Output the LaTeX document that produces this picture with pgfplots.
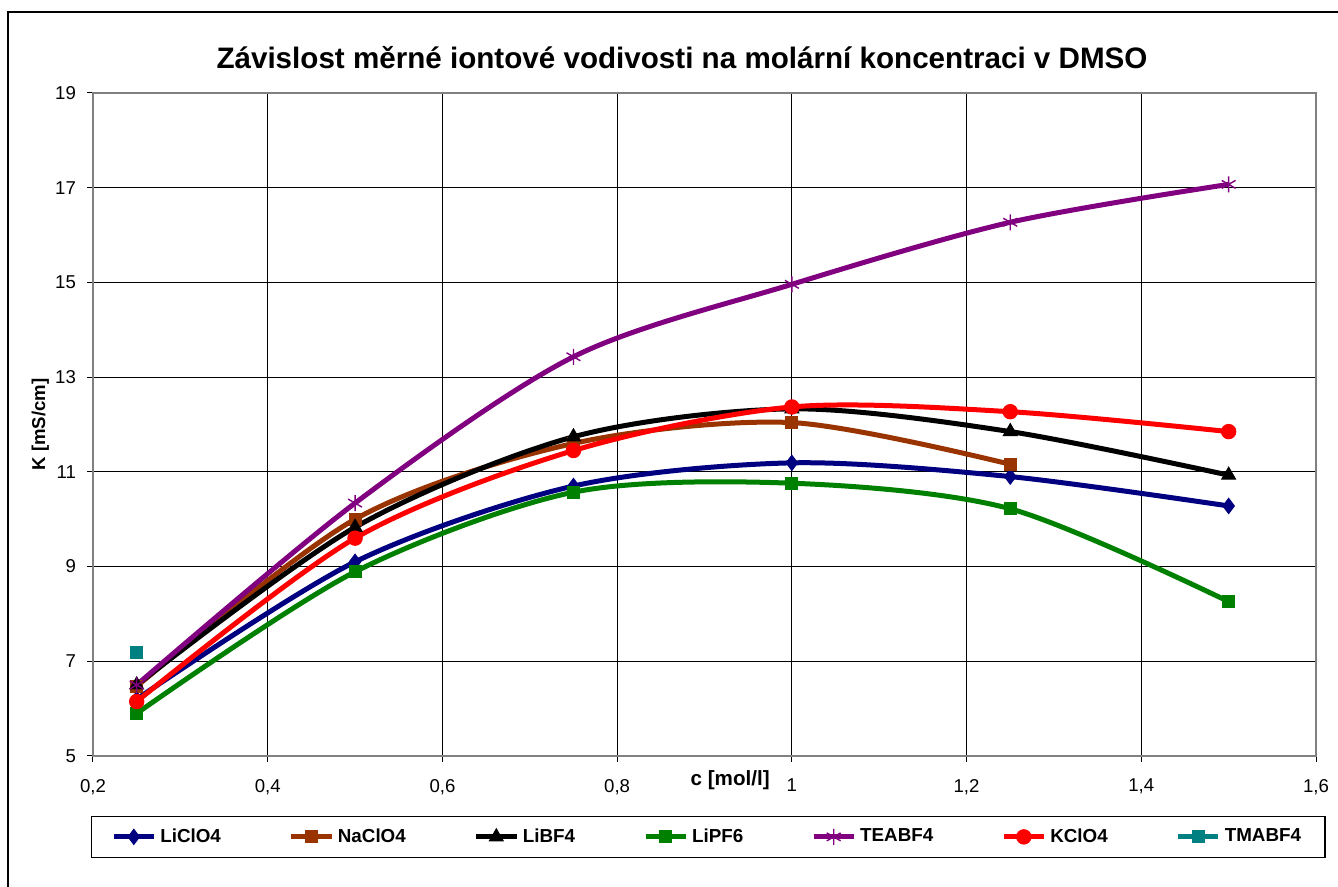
\documentclass[border=0pt]{standalone}
\usepackage{fontspec}
\setmainfont{Liberation Sans}
\usepackage{pgfplots}
\pgfplotsset{compat=1.18}
\definecolor{cLiClO}{RGB}{0,0,128}
\definecolor{cNaClO}{RGB}{153,51,0}
\definecolor{cLiPF}{RGB}{0,128,0}
\definecolor{cTEA}{RGB}{128,0,128}
\definecolor{cTMA}{RGB}{0,128,128}
\begin{document}
\begin{tikzpicture}
\useasboundingbox (0,0) rectangle (669pt,443.5pt);
% outer chart frame
\draw[line width=1pt] (4pt,-10pt) |- (690pt,437.5pt);
\node[font=\bfseries\fontsize{14.8}{17}\selectfont] at (341pt,414.5pt)
  {Závislost měrné iontové vodivosti na molární koncentraci v DMSO};
\begin{axis}[
    at={(46.5pt,65.5pt)}, anchor=south west,
    scale only axis, width=611.5pt, height=331.5pt,
    xmin=0.2, xmax=1.6, ymin=5, ymax=19,
    xtick={0.2,0.4,0.6,0.8,1,1.2,1.4,1.6},
    ytick={5,7,9,11,13,15,17,19},
    /pgf/number format/.cd, use comma, 1000 sep={}, assume math mode=true,
    /pgfplots/.cd,
    grid=major,
    major grid style={black, line width=0.5pt},
    axis line style={black!50, line width=1pt},
    tick align=outside, xtick pos=bottom, ytick pos=left,
    major tick length=3pt,
    tick style={black, line width=0.5pt},
    ticklabel style={font=\fontsize{9.3}{11}\selectfont},
    xticklabel style={yshift=-5pt},
    yticklabel style={xshift=-2pt},
    ylabel={K [mS/cm]},
    ylabel style={font=\bfseries\fontsize{9.3}{11}\selectfont, at={(axis description cs:-0.043,0.5)}, anchor=center},
    xlabel={c [mol/l]},
    xlabel style={font=\bfseries\fontsize{10.3}{12}\selectfont, at={(axis description cs:0.521,0)}, anchor=center, yshift=-12pt},
    legend columns=7,
    legend style={at={(axis description cs:0.503,-0.122)}, anchor=center,
        draw=black, line width=0.6pt, font=\bfseries\fontsize{9.4}{11}\selectfont,
        inner xsep=10pt, inner ysep=4pt,
        /tikz/every even column/.append style={column sep=32pt}},
    legend image code/.code={\draw[mark repeat=2,mark phase=2] plot coordinates {(0pt,0pt)(10pt,0pt)(20pt,0pt)};},
    every axis plot/.append style={line width=2.5pt},
]
\addplot[smooth, cLiClO, mark=diamond*, mark size=3.8pt, mark options={line width=0.5pt}] coordinates {
(0.25,6.2) (0.5,9.1) (0.75,10.7) (1,11.19) (1.25,10.9) (1.5,10.28)};
\addlegendentry{LiClO4}
\addplot[smooth, cNaClO, mark=square*, mark size=3pt, mark options={line width=0.5pt}] coordinates {
(0.25,6.47) (0.5,10.0) (0.75,11.6) (1,12.04) (1.25,11.16)};
\addlegendentry{NaClO4}
\addplot[smooth, black, mark=triangle*, mark size=4pt, mark options={line width=0.5pt}] coordinates {
(0.25,6.5) (0.5,9.83) (0.75,11.74) (1,12.33) (1.25,11.85) (1.5,10.93)};
\addlegendentry{LiBF4}
\addplot[smooth, cLiPF, mark=square*, mark size=3pt, mark options={line width=0.5pt}] coordinates {
(0.25,5.9) (0.5,8.89) (0.75,10.57) (1,10.76) (1.25,10.22) (1.5,8.26)};
\addlegendentry{LiPF6}
\addplot[smooth, cTEA, mark=asterisk, mark size=4pt, mark options={line width=0.7pt}] coordinates {
(0.25,6.5) (0.5,10.34) (0.75,13.43) (1,14.96) (1.25,16.27) (1.5,17.07)};
\addlegendentry{TEABF4}
\addplot[smooth, red, mark=*, mark size=3.6pt, mark options={line width=0.5pt}] coordinates {
(0.25,6.15) (0.5,9.6) (0.75,11.45) (1,12.37) (1.25,12.27) (1.5,11.85)};
\addlegendentry{KClO4}
\addplot[cTMA, mark=square*, mark size=3pt, mark options={line width=0.5pt}] coordinates {
(0.25,7.19)};
\addlegendentry{TMABF4}
\end{axis}
\end{tikzpicture}
\end{document}
